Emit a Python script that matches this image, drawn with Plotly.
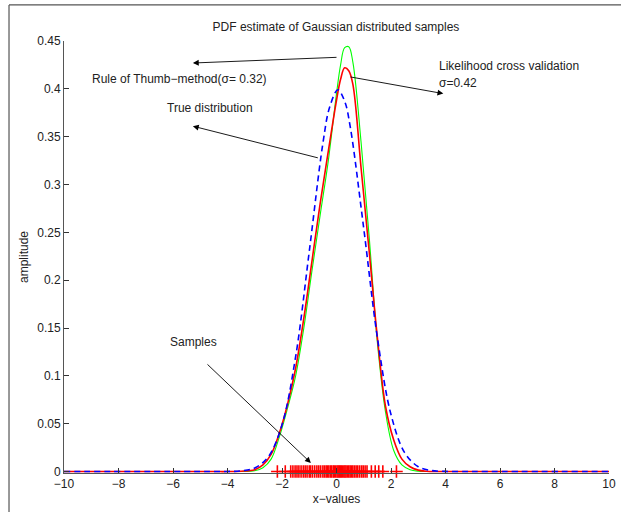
import plotly.graph_objects as go

# ---- data ----
x_true = [-10, -5, -4.5, -4, -3.5, -3, -2.5, -2, -1.5, -1, -0.5, -0.25, 0.05, 0.3, 0.5, 1, 1.5, 2, 2.5, 3, 3.5, 4, 4.5, 5, 10]
y_true = [0, 0, 0.00001, 0.00011, 0.00073, 0.0038, 0.0155, 0.0488, 0.120, 0.230, 0.343, 0.381, 0.399, 0.387, 0.361, 0.254, 0.140, 0.0596, 0.0198, 0.0051, 0.00104, 0.00016, 0.00002, 0, 0]

x_kde = [-10, -4.5, -4, -3.5, -3.0, -2.7, -2.4, -2.1, -1.8, -1.5, -1.2, -0.9, -0.6, -0.3, 0.0, 0.15, 0.3, 0.45, 0.6, 0.9, 1.2, 1.5, 1.8, 2.1, 2.4, 2.7, 3.0, 3.3, 3.7, 4.5, 10]
y_lcv = [0, 0, 0.00002, 0.0004, 0.002, 0.007, 0.018, 0.04, 0.07, 0.108, 0.16, 0.22, 0.28, 0.335, 0.388, 0.41, 0.422, 0.419, 0.405, 0.318, 0.23, 0.14, 0.068, 0.033, 0.013, 0.005, 0.0015, 0.0003, 0.00003, 0, 0]
y_rot = [0, 0, 0, 0.0001, 0.0008, 0.004, 0.013, 0.036, 0.066, 0.1, 0.15, 0.21, 0.268, 0.325, 0.395, 0.425, 0.443, 0.444, 0.428, 0.345, 0.245, 0.135, 0.062, 0.022, 0.007, 0.002, 0.0004, 0.00005, 0, 0, 0]

samples = [-2.17, -1.88, -1.68, -1.6, -1.52, -1.45, -1.38, -1.3, -1.22, -1.15, -1.08, -1.0,
           -0.95, -0.88, -0.8, -0.72, -0.65, -0.58, -0.5, -0.44, -0.38, -0.33, -0.28, -0.22,
           -0.18, -0.12, -0.08, -0.03, 0.02, 0.06, 0.1, 0.14, 0.18, 0.22, 0.27, 0.31, 0.35,
           0.4, 0.45, 0.5, 0.55, 0.6, 0.66, 0.72, 0.78, 0.85, 0.92, 0.98, 1.05, 1.12, 1.28,
           1.42, 1.55, 1.7, 2.2]
sample_y = [0] * len(samples)

x_ticks = list(range(-10, 11, 2))
y_ticks = [0, 0.05, 0.1, 0.15, 0.2, 0.25, 0.3, 0.35, 0.4, 0.45]
y_tick_text = ["0", "0.05", "0.1", "0.15", "0.2", "0.25", "0.3", "0.35", "0.4", "0.45"]

FONT = "Liberation Sans, Arial, sans-serif"

fig = go.Figure()
fig.add_trace(go.Scatter(x=x_kde, y=y_rot, mode="lines", line=dict(color="#00ff00", width=1.1, shape="spline"), showlegend=False))
fig.add_trace(go.Scatter(x=x_kde, y=y_lcv, mode="lines", line=dict(color="#ff0000", width=1.6, shape="spline"), showlegend=False))
fig.add_trace(go.Scatter(x=x_true, y=y_true, mode="lines", line=dict(color="#0000ff", width=1.6, dash="6px,4px", shape="spline"), showlegend=False))
fig.add_trace(go.Scatter(x=samples, y=sample_y, mode="markers", cliponaxis=False,
                         marker=dict(symbol="cross-thin", size=9, color="#ff0000", line=dict(color="#ff0000", width=1.6)),
                         showlegend=False))

def arrow(tail, head):
    fig.add_annotation(x=head[0], y=head[1], ax=tail[0], ay=tail[1], xref="x", yref="y",
                       axref="x", ayref="y", text="", showarrow=True, arrowhead=2,
                       arrowsize=1.3, arrowwidth=0.9, arrowcolor="black", standoff=0, startstandoff=0)

arrow((0.055, 0.433), (-5.27, 0.427))
arrow((0.46, 0.4127), (3.92, 0.395))
arrow((-0.63, 0.3275), (-5.27, 0.361))
arrow((-4.79, 0.1135), (-0.94, 0.009))

def label(x, y, t):
    fig.add_annotation(x=x, y=y, xref="x", yref="y", text=t, showarrow=False, xanchor="left",
                       yanchor="middle", font=dict(family=FONT, size=12, color="#222"))

label(-9.05, 0.41, "Rule of Thumb\u2212method(\u03c3= 0.32)")
label(-6.29, 0.38, "True distribution")
label(-6.18, 0.135, "Samples")
label(3.68, 0.424, "Likelihood cross validation")
label(3.68, 0.406, "\u03c3=0.42")

# outer frame (partially visible)
fig.add_shape(type="line", xref="paper", yref="paper", x0=-0.1009, x1=-0.1009, y0=1.0835, y1=-0.2,
              line=dict(color="#555", width=1.2))
fig.add_shape(type="line", xref="paper", yref="paper", x0=-0.1009, x1=1.1, y0=1.0835, y1=1.0835,
              line=dict(color="#555", width=1.2))

fig.update_layout(
    width=621, height=512,
    margin=dict(l=64, r=12, t=41, b=39, autoexpand=False),
    paper_bgcolor="white", plot_bgcolor="white",
    font=dict(family=FONT, size=12, color="#222"),
    title=dict(text="PDF estimate of Gaussian distributed samples", x=0.541, xanchor="center",
               y=1 - 27 / 512, yanchor="middle", yref="container", font=dict(size=12, color="#222")),
    xaxis=dict(range=[-10, 10], tickvals=x_ticks, ticks="inside", ticklen=5, tickcolor="#333",
               showline=True, linecolor="#555", linewidth=1, showgrid=False, zeroline=False,
               automargin=False,
               title=dict(text="x\u2212values", standoff=4, font=dict(size=12)), mirror=False),
    yaxis=dict(range=[-0.0015, 0.45], tickvals=y_ticks, ticktext=y_tick_text, ticks="inside", ticklen=5,
               tickcolor="#333", showline=True, linecolor="#555", linewidth=1, showgrid=False,
               automargin=False,
               zeroline=False, title=dict(text="amplitude", standoff=6, font=dict(size=12))),
)

fig.write_html("out.html")
